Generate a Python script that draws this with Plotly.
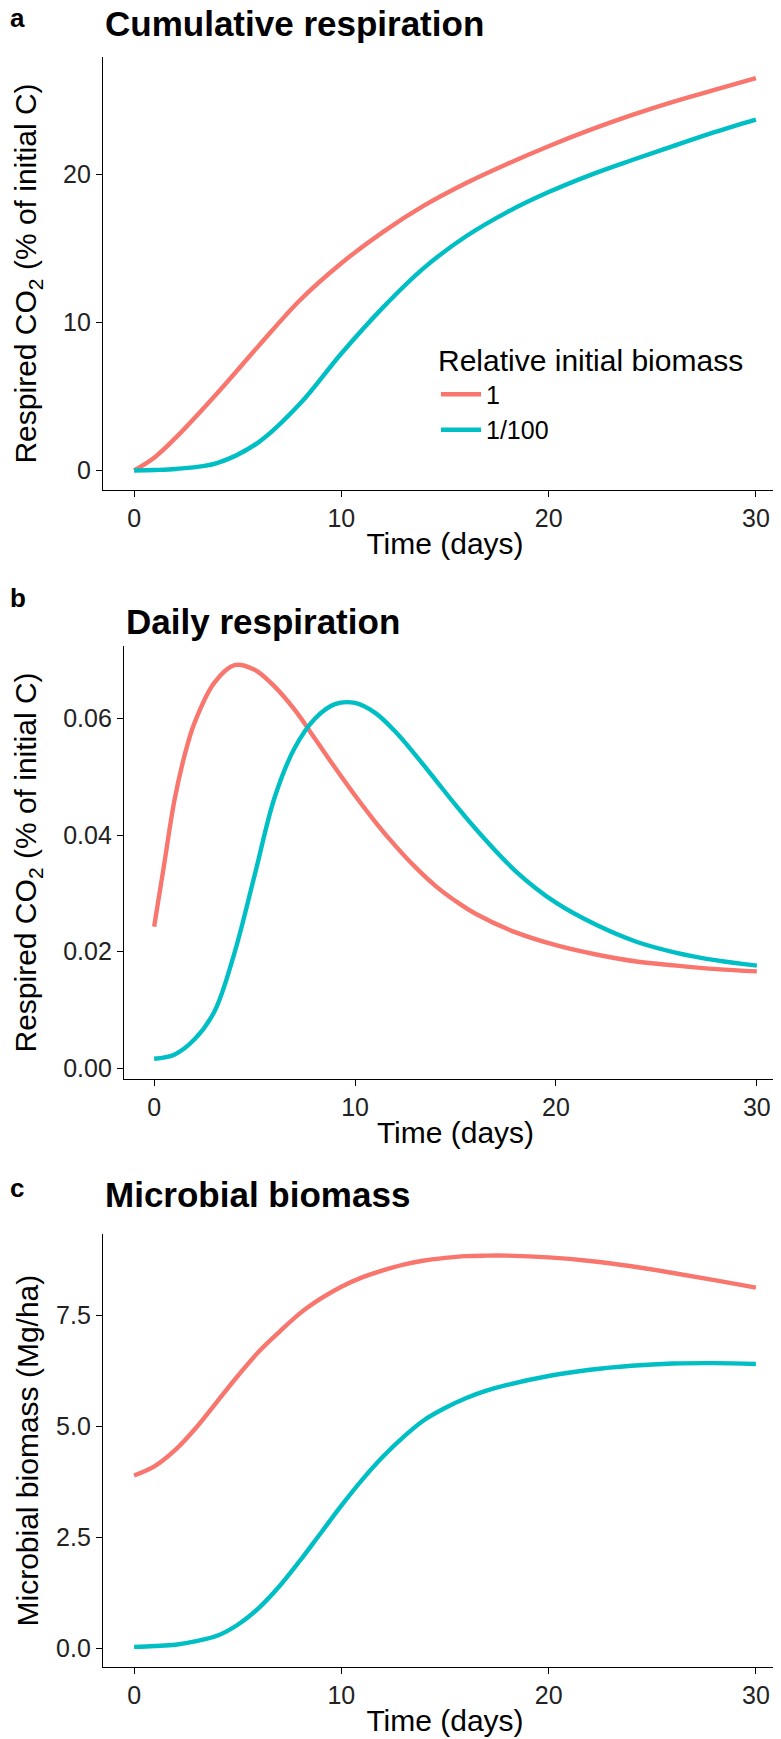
import plotly.graph_objects as go

W, H = 781, 1739

# ---------------- data ----------------
series_names = ["1", "1/100"]
colors = ["#F8766D", "#00BFC4"]

# Panel a: cumulative respiration (% of initial C)
cum_t = [0, 1, 2, 4, 6, 8, 10, 12, 14, 16, 18, 20, 22, 24, 26, 28, 30]
cum_1 = [0.0, 0.9, 2.2, 5.2, 8.4, 11.5, 14.0, 16.1, 17.9, 19.4, 20.7, 21.9, 23.0, 24.0, 24.9, 25.7, 26.5]
cum_100 = [0.0, 0.03, 0.1, 0.5, 1.9, 4.5, 7.9, 11.0, 13.7, 15.8, 17.45, 18.8, 19.95, 20.95, 21.9, 22.85, 23.7]

# Panel b: daily respiration
day_t_1 = [0, 0.5, 1, 1.5, 2, 3, 4, 5, 6, 7, 8, 9, 10, 11, 12, 13, 14, 15, 16, 18, 20, 22, 24, 26, 28, 30]
day_1 = [0.0243, 0.035, 0.0458, 0.0535, 0.0592, 0.0662, 0.0692, 0.0684, 0.0655, 0.0615, 0.0566,
         0.0516, 0.0468, 0.0423, 0.0382, 0.0345, 0.0313, 0.0287, 0.0265, 0.0233, 0.0211, 0.0195,
         0.0183, 0.0176, 0.0170, 0.0166]
day_t_100 = [0, 1, 2, 3, 4, 5, 6, 7, 8, 9, 10, 11, 12, 13, 14, 15, 16, 18, 20, 22, 24, 26, 28, 30]
day_100 = [0.0016, 0.0023, 0.0049, 0.0097, 0.0198, 0.0331, 0.0465, 0.0550, 0.0600, 0.0625, 0.0627,
           0.0610, 0.0578, 0.0538, 0.0495, 0.0452, 0.0411, 0.0338, 0.0284, 0.0246, 0.0217,
           0.0198, 0.0185, 0.0176]

# Panel c: microbial biomass (Mg/ha)
bio_t = [0, 1, 2, 3, 4, 5, 6, 7, 8, 9, 10, 11, 12, 13, 14, 15, 16, 17, 18, 20, 22, 24, 26, 28, 30]
bio_1 = [3.90, 4.11, 4.48, 4.98, 5.56, 6.14, 6.68, 7.13, 7.55, 7.88, 8.15, 8.36, 8.52, 8.65, 8.74,
         8.80, 8.84, 8.85, 8.85, 8.81, 8.73, 8.61, 8.46, 8.30, 8.13]
bio_100 = [0.04, 0.06, 0.09, 0.17, 0.29, 0.54, 0.91, 1.40, 1.98, 2.60, 3.22, 3.80, 4.32, 4.77, 5.15,
           5.42, 5.64, 5.81, 5.94, 6.14, 6.28, 6.37, 6.42, 6.43, 6.41]

x_ticks = [0, 10, 20, 30]
cum_ticks = [0, 10, 20]
day_ticks = [0.0, 0.02, 0.04, 0.06]
day_ticktext = ["0.00", "0.02", "0.04", "0.06"]
bio_ticks = [0.0, 2.5, 5.0, 7.5]
bio_ticktext = ["0.0", "2.5", "5.0", "7.5"]

# ---------------- figure ----------------
FONT = "Liberation Sans, Arial, Helvetica, sans-serif"
fig = go.Figure()

def add(x, y, i, ax, show):
    fig.add_trace(go.Scatter(
        x=x, y=y, mode="lines", name=series_names[i],
        line=dict(color=colors[i], width=4.4, shape="spline", smoothing=1.0),
        xaxis=ax[0], yaxis=ax[1], showlegend=show))

add(cum_t, cum_1, 0, ("x", "y"), True)
add(cum_t, cum_100, 1, ("x", "y"), True)
add(day_t_1, day_1, 0, ("x2", "y2"), False)
add(day_t_100, day_100, 1, ("x2", "y2"), False)
add(bio_t, bio_1, 0, ("x3", "y3"), False)
add(bio_t, bio_100, 1, ("x3", "y3"), False)

def py(top_px, bot_px):
    return [1 - bot_px / H, 1 - top_px / H]

axis_common = dict(showline=True, linecolor="black", linewidth=1.3, ticks="outside",
                   ticklen=6, tickwidth=1.3, tickcolor="black", showgrid=False,
                   zeroline=False, tickfont=dict(size=25, color="#222222", family=FONT))

def xax(left_px, anchor):
    return dict(axis_common, domain=[left_px / W, 779 / W], anchor=anchor,
                range=[-1.5, 31.5], tickvals=x_ticks,
                title=dict(text="Time (days)", font=dict(size=30, color="black", family=FONT),
                           standoff=1))

fig.update_layout(
    width=W, height=H, margin=dict(l=0, r=0, t=0, b=0),
    plot_bgcolor="white", paper_bgcolor="white",
    font=dict(family=FONT, color="black"),
    xaxis=xax(95, "y"),
    xaxis2=xax(116, "y2"),
    xaxis3=xax(95, "y3"),
    yaxis=dict(axis_common, domain=py(49, 483), anchor="x", range=[-1.33, 27.93],
               tickvals=cum_ticks),
    yaxis2=dict(axis_common, domain=py(639, 1073), anchor="x2", range=[-0.0019, 0.0725],
                tickvals=day_ticks, ticktext=day_ticktext),
    yaxis3=dict(axis_common, domain=py(1228, 1662), anchor="x3", range=[-0.415, 9.34],
                tickvals=bio_ticks, ticktext=bio_ticktext),
    legend=dict(x=428 / W, y=1 - 325 / H, xanchor="left", yanchor="top",
                bgcolor="rgba(0,0,0,0)",
                title=dict(text="Relative initial biomass", font=dict(size=30, family=FONT)),
                font=dict(size=25, family=FONT), itemwidth=40),
)

# y-axis titles
ytitles = [("Respired CO<sub>2</sub> (% of initial C)", 266),
           ("Respired CO<sub>2</sub> (% of initial C)", 856),
           ("Microbial biomass (Mg/ha)", 1445)]
for text, yc in ytitles:
    fig.add_annotation(text=text, x=20 / W, y=1 - yc / H, xref="paper", yref="paper",
                       xanchor="center", yanchor="middle", textangle=-90, showarrow=False,
                       font=dict(size=30, family=FONT, color="black"))

# Panel titles and letters
titles = [("Cumulative respiration", 95, 16), ("Daily respiration", 116, 615), ("Microbial biomass", 95, 1189)]
for text, xl, yc in titles:
    fig.add_annotation(text=f"<b>{text}</b>", x=xl / W, y=1 - yc / H, xref="paper", yref="paper",
                       xanchor="left", yanchor="middle", showarrow=False,
                       font=dict(size=35, family=FONT, color="black"))
letters = [("a", 10), ("b", 591), ("c", 1182)]
for text, yc in letters:
    fig.add_annotation(text=f"<b>{text}</b>", x=0, y=1 - yc / H, xref="paper", yref="paper",
                       xanchor="left", yanchor="middle", showarrow=False,
                       font=dict(size=26, family=FONT, color="black"))

fig.write_html("out.html")
